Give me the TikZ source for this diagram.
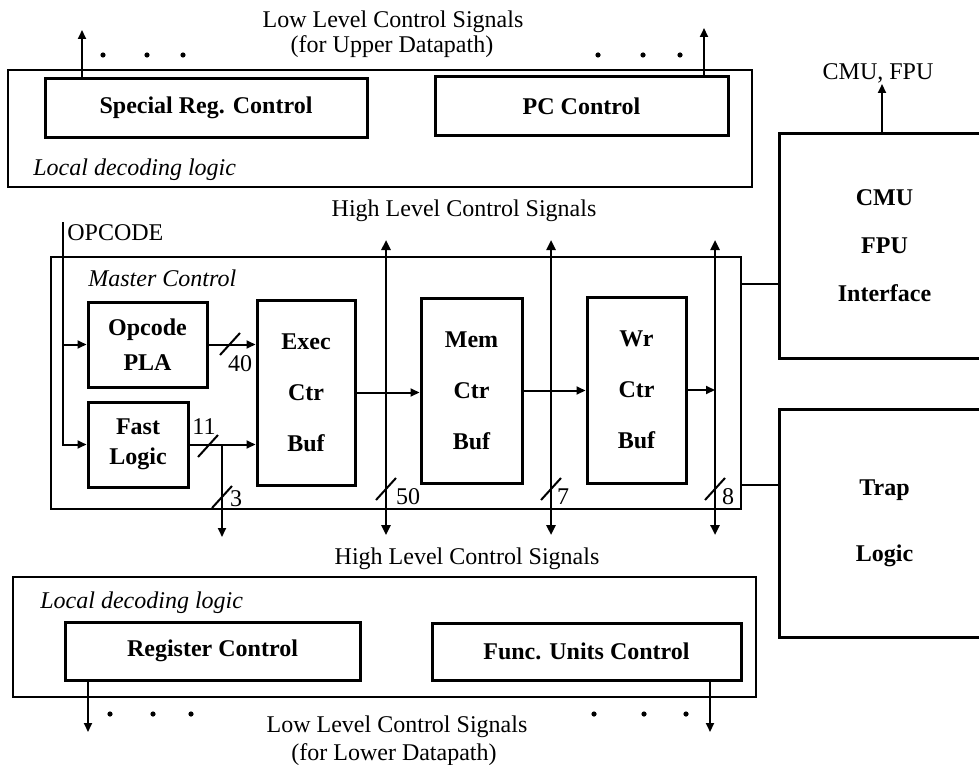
\documentclass[tikz,border=0pt]{standalone}
\usepackage{fontspec}
\setmainfont{Liberation Serif}
\usetikzlibrary{arrows.meta}
\newcommand{\buscut}[1]{\draw[wire] ([shift={(-10,11)}]#1) -- ([shift={(10,-11)}]#1);}

\begin{document}
\begin{tikzpicture}[x=0.5pt,y=-0.5pt,
  every node/.style={font=\fontsize{12}{14}\selectfont},
  outerbox/.style={draw,line width=0.9pt,inner sep=0pt},
  block/.style={draw,line width=1.5pt,inner sep=0pt,align=center,font=\fontsize{12}{14}\selectfont\bfseries},
  note/.style={inner sep=0pt,font=\fontsize{12}{14}\selectfont\itshape},
  tag/.style={inner sep=0pt},
  wire/.style={line width=1pt},
  sig/.style={wire,-{Triangle[length=4.5pt,width=4pt]}},
  bus/.style={line width=1.2pt,{Triangle[length=5pt,width=4.5pt]}-{Triangle[length=5pt,width=4.5pt]}}]
\useasboundingbox (0,0) rectangle (979,765);
\clip (0,0) rectangle (979,765);
%
% upper datapath decoding
\node[outerbox,minimum width=372pt,minimum height=58.5pt](upper) at (380,128.5) {};
\node[note,anchor=west](updec) at (33,170) {Local decoding logic};
\node[block,minimum width=161pt,minimum height=29pt](sreg) at (206,108) {Special Reg. Control};
\node[block,minimum width=146.5pt,minimum height=29pt](pc) at (581.5,106) {PC Control};
\node(lowup) at (393,22) {Low Level Control Signals};
\node(lowup2) at (392,47) {(for Upper Datapath)};
\coordinate(sregup) at (82,30);
\coordinate(pcup) at (704,28);
\draw[sig](sreg.north -| sregup) -- (sregup);
\draw[sig](pc.north -| pcup) -- (pcup);
\foreach \x in {103,147,183,598,643,680} \fill (\x,55) circle (1.3pt);
%
% CMU / FPU interface and trap logic
\node[block,minimum width=105.5pt,minimum height=112.5pt](cmu) at (884.5,245.5) {CMU\\[10pt]FPU\\[10pt]Interface};
\node[block,minimum width=105.5pt,minimum height=114pt](trap) at (884.5,523) {Trap\\[19pt]Logic};
\node(cmufpu) at (878,73) {CMU, FPU};
\coordinate(cmuup) at (882,84);
\draw[sig](cmu.north -| cmuup) -- (cmuup);
%
% master control
\node[outerbox,minimum width=345pt,minimum height=126pt](master) at (396,383) {};
\node[note,anchor=west](mctl) at (88,278) {Master Control};
\coordinate(opin) at (63,222);
\node[tag,anchor=west](opcode) at (67,233) {OPCODE};
\node[block,minimum width=59.5pt,minimum height=42.5pt](pla) at (147.5,344.5) {Opcode\\[3.5pt]PLA};
\node[block,minimum width=50pt,minimum height=42.5pt](fast) at (138,444.5) {Fast\\[1pt]Logic};
\node[block,minimum width=49pt,minimum height=92.5pt](exec) at (306,392.5) {Exec\\[11.5pt]Ctr\\[11.5pt]Buf};
\node[block,minimum width=50.5pt,minimum height=92.5pt](mem) at (471.5,390.5) {Mem\\[11.5pt]Ctr\\[11.5pt]Buf};
\node[block,minimum width=49.5pt,minimum height=93pt](wr) at (636.5,390) {Wr\\[11.5pt]Ctr\\[11.5pt]Buf};
\draw[sig](opin) |- (fast.west);
\draw[sig](opin |- pla.west) -- (pla.west);
\draw[sig](pla.east) -- (pla.east -| exec.west);
\draw[sig](fast.east) -- (fast.east -| exec.west);
\draw[sig](exec.east) -- (exec.east -| mem.west);
\draw[sig](mem.east) -- (mem.east -| wr.west);
%
% high level control buses
\coordinate(b3) at (222,537);
\coordinate(b50t) at (386,240);
\coordinate(b50b) at (386,535);
\coordinate(b7t) at (551,240);
\coordinate(b7b) at (551,535);
\coordinate(b8t) at (715,240);
\coordinate(b8b) at (715,535);
\draw[sig](fast.east -| b3) -- (b3);
\draw[bus](b50b) -- (b50t);
\draw[bus](b7b) -- (b7t);
\draw[bus](b8b) -- (b8t);
\draw[sig](wr.east) -- (wr.east -| b8t);
\node(hightop) at (464,211) {High Level Control Signals};
\node(highbot) at (467,559) {High Level Control Signals};
%
% bus widths
\coordinate(s40) at (230,344);
\coordinate(s11) at (208,446);
\coordinate(s3) at (222,497);
\coordinate(s50) at (386,489);
\coordinate(s7) at (551,489);
\coordinate(s8) at (715,489);
\buscut{s40} \buscut{s11} \buscut{s3}
\buscut{s50} \buscut{s7} \buscut{s8}
\node[tag](n40) at (240,364) {40};
\node[tag](n11) at (204,427) {11};
\node[tag](n3) at (236,499) {3};
\node[tag](n50) at (408,497) {50};
\node[tag](n7) at (563,497) {7};
\node[tag](n8) at (728,497) {8};
%
% links to the right-hand units
\draw[wire](master.east |- 0,284) -- (cmu.west |- 0,284);
\draw[wire](master.east |- 0,485) -- (trap.west |- 0,485);
%
% lower datapath decoding
\node[outerbox,minimum width=371.5pt,minimum height=60pt](lower) at (384.5,637) {};
\node[note,anchor=west](lowdec) at (40,603) {Local decoding logic};
\node[block,minimum width=147.5pt,minimum height=29pt](reg) at (212.5,651) {Register Control};
\node[block,minimum width=154.5pt,minimum height=28.5pt](func) at (586.5,651.5) {Func. Units Control};
\coordinate(regdn) at (88,732);
\coordinate(funcdn) at (710,732);
\draw[sig](reg.south -| regdn) -- (regdn);
\draw[sig](func.south -| funcdn) -- (funcdn);
\foreach \x in {110,153,191,594,644,686} \fill (\x,714) circle (1.3pt);
\node(lowbot) at (397,727) {Low Level Control Signals};
\node(lowbot2) at (394,755) {(for Lower Datapath)};
\end{tikzpicture}
\end{document}
